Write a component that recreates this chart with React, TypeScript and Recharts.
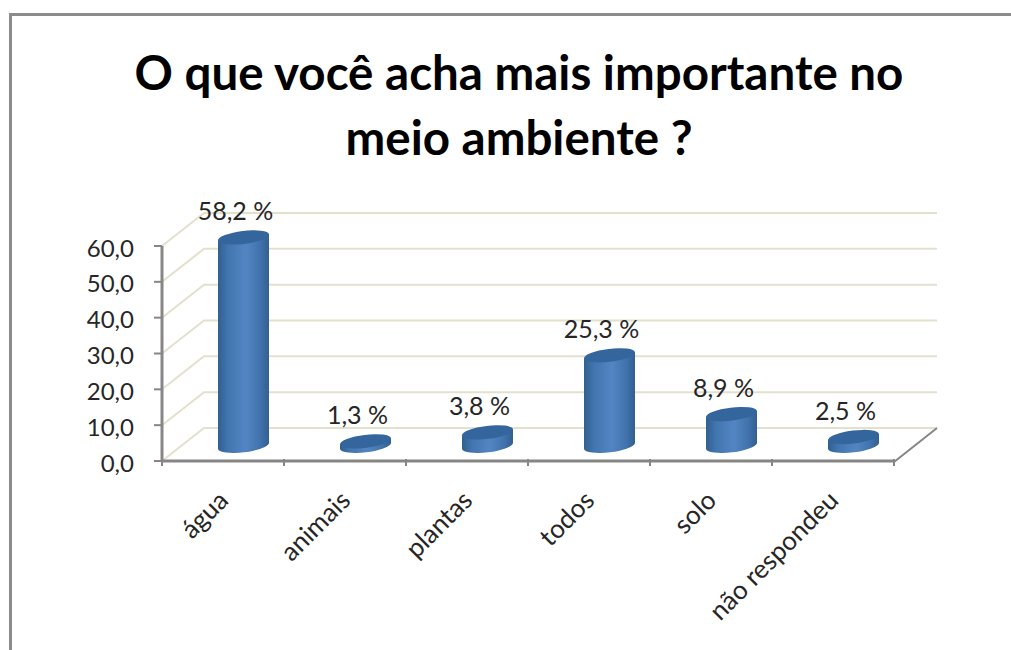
import { BarChart, Bar, XAxis, YAxis, ReferenceLine, LabelList } from 'recharts';

const categories = ['água', 'animais', 'plantas', 'todos', 'solo', 'não respondeu'];
const percentValues = [58.2, 1.3, 3.8, 25.3, 8.9, 2.5];
const gridValues = [0, 10, 20, 30, 40, 50, 60];
const titleLines = ['O que você acha mais importante no', 'meio ambiente ?'];

const chartData = categories.map((name, i) => ({ name, value: percentValues[i] }));

const FONT = 'Lato, "Open Sans", sans-serif';
const AXIS_COLOR = '#868686';
const GRID_COLOR = '#e3e1cc';
const TEXT_COLOR = '#262626';
const DEPTH_X = 42;
const DEPTH_Y = 33;
const BAR_SHIFT_X = 20;
const BAR_SHIFT_Y = 15;

const commaValue = (v: number) => v.toFixed(1).replace('.', ',');

// wall and floor lines of the fake 3D box
function GridShape(props: any) {
  const { x1, x2, y1, isFloor } = props;
  const by = y1 - DEPTH_Y;
  return (
    <g fill='none'>
      <polyline
        points={`${x1},${y1} ${x1 + DEPTH_X},${by} ${x2 + DEPTH_X + 1},${by}`}
        stroke={GRID_COLOR}
        strokeWidth={2}
      />
      {isFloor && (
        <line x1={x2} y1={y1 + 1} x2={x2 + DEPTH_X + 1} y2={by} stroke={AXIS_COLOR} strokeWidth={2} />
      )}
    </g>
  );
}

function Cylinder(props: any) {
  const { x, y, width, height } = props;
  const cx = x + width / 2 + BAR_SHIFT_X;
  const topY = y - BAR_SHIFT_Y;
  const baseY = y + height - BAR_SHIFT_Y;
  const rx = width / 2;
  const ry = 6.5;
  const tilt = 3.1;
  const body = `M${cx - rx},${topY + tilt} L${cx - rx},${baseY + tilt} A${rx + 0.2},${ry} -7 0 0 ${cx + rx},${baseY - tilt} L${cx + rx},${topY - tilt} Z`;
  return (
    <g>
      <path d={body} fill='url(#cylinderBody)' />
      <ellipse
        cx={cx}
        cy={topY}
        rx={rx + 0.2}
        ry={ry}
        fill='#34659c'
        transform={`rotate(-7 ${cx} ${topY})`}
      />
    </g>
  );
}

function CategoryTick(props: any) {
  const { x, y, payload, index } = props;
  const half = payload.offset || 61;
  const tickTop = y - 8;
  const labelX = x + 7;
  const labelY = y + 35;
  return (
    <g>
      {index === 0 && (
        <line x1={x - half} y1={tickTop} x2={x - half} y2={tickTop + 7} stroke={AXIS_COLOR} strokeWidth={2} />
      )}
      <line x1={x + half} y1={tickTop} x2={x + half} y2={tickTop + 7} stroke={AXIS_COLOR} strokeWidth={2} />
      <text
        x={labelX}
        y={labelY}
        textAnchor='end'
        fontFamily={FONT}
        fontSize={26}
        fill={TEXT_COLOR}
        transform={`rotate(-45 ${labelX} ${labelY})`}
      >
        {payload.value}
      </text>
    </g>
  );
}

function PercentLabel(props: any) {
  const { x, y, width, value } = props;
  return (
    <text
      x={x + width / 2 + 12}
      y={y - 32}
      textAnchor='middle'
      fontFamily={FONT}
      fontSize={25}
      fill={TEXT_COLOR}
    >
      {commaValue(value)} %
    </text>
  );
}

export default function App() {
  return (
    <div style={{ position: 'absolute', left: 0, top: 0, width: 1011, height: 650, background: '#fff', overflow: 'hidden' }}>
      <div
        style={{
          position: 'absolute',
          left: 9,
          top: 13,
          width: 1011,
          height: 650,
          borderTop: '3px solid #8c8c8c',
          borderLeft: '3px solid #8c8c8c',
        }}
      />
      <BarChart
        width={1011}
        height={650}
        data={chartData}
        margin={{ top: 246, right: 117, bottom: 0, left: 102 }}
        barSize={51}
        style={{ position: 'absolute', left: 0, top: 0 }}
      >
        <defs>
          <linearGradient id='cylinderBody' x1='0' y1='0' x2='1' y2='0'>
            <stop offset='0%' stopColor='#31608f' />
            <stop offset='20%' stopColor='#4276b0' />
            <stop offset='55%' stopColor='#5385c2' />
            <stop offset='82%' stopColor='#4173ad' />
            <stop offset='100%' stopColor='#335f90' />
          </linearGradient>
        </defs>
        <text textAnchor='middle' fontFamily={FONT} fontWeight={700} fontSize={47.5} fill='#000'>
          <tspan x={519} y={90}>{titleLines[0]}</tspan>
          <tspan x={519} y={155}>{titleLines[1]}</tspan>
        </text>
        {gridValues.map((v) => (
          <ReferenceLine key={v} y={v} zIndex={0} shape={<GridShape isFloor={v === 0} />} />
        ))}
        <XAxis
          dataKey='name'
          height={189}
          interval={0}
          axisLine={{ stroke: AXIS_COLOR, strokeWidth: 3 }}
          tickLine={false}
          tick={<CategoryTick />}
          tickMargin={0}
        />
        <YAxis
          width={60}
          domain={[0, 60]}
          ticks={gridValues}
          interval={0}
          axisLine={{ stroke: AXIS_COLOR, strokeWidth: 3 }}
          tickLine={{ stroke: AXIS_COLOR, strokeWidth: 2 }}
          tickSize={8}
          tickMargin={20}
          tickFormatter={commaValue}
          tick={{ fontFamily: FONT, fontSize: 24, fill: TEXT_COLOR, dy: 2 }}
        />
        <Bar dataKey='value' shape={<Cylinder />} isAnimationActive={false}>
          <LabelList dataKey='value' content={<PercentLabel />} />
        </Bar>
      </BarChart>
    </div>
  );
}
